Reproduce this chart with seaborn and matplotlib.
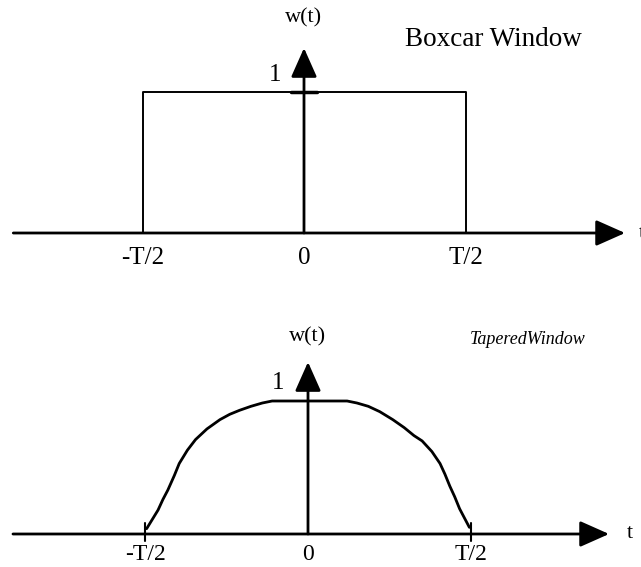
#!/usr/bin/env python3
import matplotlib
matplotlib.use("Agg")
import matplotlib.pyplot as plt
import seaborn as sns
import pandas as pd

sns.set_theme(style="white")
plt.rcParams['font.family'] = ['Liberation Serif', 'DejaVu Serif']
plt.rcParams['text.color'] = 'black'

# Data (t in units of T/2)
tick_pos = [-1, 0, 1]
tick_labels = ["-T/2", "0", "T/2"]

box_t = [-1, -1, 1, 1]
box_w = [0, 1, 1, 0]

taper_t = [-0.99, -0.95, -0.92, -0.89, -0.86, -0.82, -0.79, -0.74, -0.69,
           -0.62, -0.54, -0.48, -0.42, -0.35, -0.28, -0.22,
           0.24, 0.30, 0.37, 0.44, 0.52, 0.59, 0.65, 0.70, 0.76, 0.81,
           0.84, 0.87, 0.90, 0.93, 0.96, 0.99]
taper_w = [0.04, 0.12, 0.18, 0.26, 0.33, 0.44, 0.53, 0.63, 0.71,
           0.79, 0.86, 0.90, 0.93, 0.96, 0.985, 1.0,
           1.0, 0.985, 0.96, 0.92, 0.86, 0.80, 0.74, 0.70, 0.62, 0.53,
           0.45, 0.36, 0.28, 0.19, 0.12, 0.05]

W, H = 641, 567
fig = plt.figure(figsize=(W / 100, H / 100), dpi=100)


def arrow(ax, start, tip):
    ax.annotate('', xy=tip, xytext=start,
                arrowprops=dict(arrowstyle='-|>,head_length=0.45,head_width=0.2',
                                mutation_scale=40, lw=2, color='black',
                                shrinkA=0, shrinkB=0))


def axes_px(y0, y1):
    return fig.add_axes([0, 1 - y1 / H, 1, (y1 - y0) / H])


# ---- top panel: boxcar
ax1 = axes_px(0, 290)
ax1.set_xlim(-304 / 161.5, 337 / 161.5)
ax1.set_ylim((233 - 290) / 141, 233 / 141)
ax1.axis('off')

df_box = pd.DataFrame({'t': box_t, 'w': box_w})
sns.lineplot(data=df_box, x='t', y='w', sort=False, estimator=None,
             color='black', lw=1.4, ax=ax1)
arrow(ax1, (-1.80, 0), (1.988, 0))
arrow(ax1, (0, 0), (0, 1.312))
ax1.plot([-0.08, 0.08], [1, 1], color='black', lw=2.5)
for p, lab in zip(tick_pos, tick_labels):
    ax1.text(p, -0.177, lab, ha='center', va='center', fontsize=18)
ax1.text(0, 1.525, "w(t)", ha='center', va='center', fontsize=16)
ax1.text(-0.18, 1.12, "1", ha='center', va='center', fontsize=18)
ax1.text(0.625, 1.37, "Boxcar Window", ha='left', va='center', fontsize=19.5)
ax1.text(2.074, 0, "t", ha='left', va='center', fontsize=16)

# ---- bottom panel: tapered
ax2 = axes_px(290, 567)
ax2.set_xlim(-308 / 163, 333 / 163)
ax2.set_ylim((534 - 567) / 133, (534 - 290) / 133)
ax2.axis('off')

df_tap = pd.DataFrame({'t': taper_t, 'w': taper_w})
sns.lineplot(data=df_tap, x='t', y='w', sort=False, estimator=None,
             color='black', lw=2, ax=ax2)
arrow(ax2, (-1.81, 0), (1.847, 0))
arrow(ax2, (0, 0), (0, 1.293))
for p in [-1, 1]:
    ax2.plot([p, p], [-0.05, 0.08], color='black', lw=1.5)
for p, lab in zip(tick_pos, tick_labels):
    ax2.text(p, -0.155, lab, ha='center', va='center', fontsize=17)
ax2.text(0, 1.481, "w(t)", ha='center', va='center', fontsize=16)
ax2.text(-0.184, 1.135, "1", ha='center', va='center', fontsize=18)
ax2.text(0.994, 1.459, "TaperedWindow", ha='left', va='center',
         fontsize=13, style='italic')
ax2.text(1.957, 0, "t", ha='left', va='center', fontsize=16)

fig.savefig('out.png', dpi=100)
